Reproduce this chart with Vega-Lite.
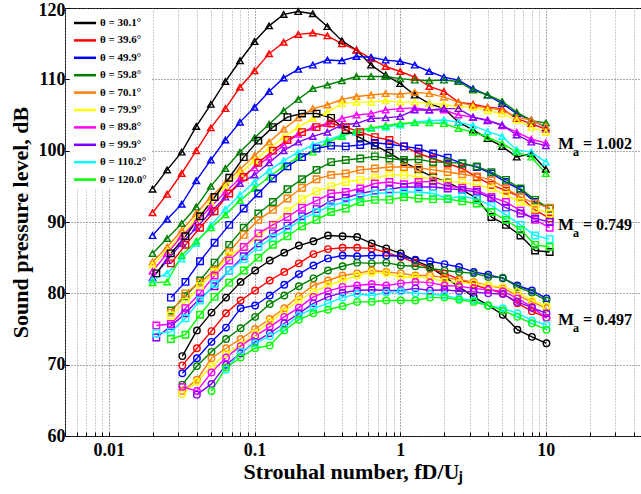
{
"$schema": "https://vega.github.io/schema/vega-lite/v6.json",
"width": 576, "height": 428,
"autosize": {"type": "none"},
"padding": {"left": 65, "top": 8, "right": 0, "bottom": 58},
"background": "white",
"data": {"values": [
{"s":"30.1","m":"1.002","x":0.01995,"y":94.6},{"s":"30.1","m":"1.002","x":0.02512,"y":97.3},{"s":"30.1","m":"1.002","x":0.03162,"y":99.8},{"s":"30.1","m":"1.002","x":0.03981,"y":103.4},{"s":"30.1","m":"1.002","x":0.05012,"y":106.5},{"s":"30.1","m":"1.002","x":0.0631,"y":109.7},{"s":"30.1","m":"1.002","x":0.07943,"y":112.6},{"s":"30.1","m":"1.002","x":0.1,"y":115.3},{"s":"30.1","m":"1.002","x":0.1259,"y":117.5},{"s":"30.1","m":"1.002","x":0.1585,"y":119.1},{"s":"30.1","m":"1.002","x":0.1995,"y":119.5},{"s":"30.1","m":"1.002","x":0.2512,"y":119.2},{"s":"30.1","m":"1.002","x":0.3162,"y":117.4},{"s":"30.1","m":"1.002","x":0.3981,"y":115.4},{"s":"30.1","m":"1.002","x":0.5012,"y":114.1},{"s":"30.1","m":"1.002","x":0.631,"y":112.0},{"s":"30.1","m":"1.002","x":0.7943,"y":110.6},{"s":"30.1","m":"1.002","x":1,"y":109.4},{"s":"30.1","m":"1.002","x":1.259,"y":107.8},{"s":"30.1","m":"1.002","x":1.585,"y":106.6},{"s":"30.1","m":"1.002","x":1.995,"y":105.9},{"s":"30.1","m":"1.002","x":2.512,"y":104.0},{"s":"30.1","m":"1.002","x":3.162,"y":102.9},{"s":"30.1","m":"1.002","x":3.981,"y":101.7},{"s":"30.1","m":"1.002","x":5.012,"y":100.6},{"s":"30.1","m":"1.002","x":6.31,"y":99.1},{"s":"30.1","m":"1.002","x":7.943,"y":99.6},{"s":"30.1","m":"1.002","x":10,"y":97.4},
{"s":"39.6","m":"1.002","x":0.01995,"y":91.3},{"s":"39.6","m":"1.002","x":0.02512,"y":93.9},{"s":"39.6","m":"1.002","x":0.03162,"y":96.8},{"s":"39.6","m":"1.002","x":0.03981,"y":100.0},{"s":"39.6","m":"1.002","x":0.05012,"y":103.2},{"s":"39.6","m":"1.002","x":0.0631,"y":105.9},{"s":"39.6","m":"1.002","x":0.07943,"y":108.9},{"s":"39.6","m":"1.002","x":0.1,"y":111.2},{"s":"39.6","m":"1.002","x":0.1259,"y":113.6},{"s":"39.6","m":"1.002","x":0.1585,"y":115.2},{"s":"39.6","m":"1.002","x":0.1995,"y":116.3},{"s":"39.6","m":"1.002","x":0.2512,"y":116.5},{"s":"39.6","m":"1.002","x":0.3162,"y":116.1},{"s":"39.6","m":"1.002","x":0.3981,"y":115.0},{"s":"39.6","m":"1.002","x":0.5012,"y":114.1},{"s":"39.6","m":"1.002","x":0.631,"y":112.9},{"s":"39.6","m":"1.002","x":0.7943,"y":111.8},{"s":"39.6","m":"1.002","x":1,"y":111.1},{"s":"39.6","m":"1.002","x":1.259,"y":110.3},{"s":"39.6","m":"1.002","x":1.585,"y":109.0},{"s":"39.6","m":"1.002","x":1.995,"y":108.3},{"s":"39.6","m":"1.002","x":2.512,"y":106.8},{"s":"39.6","m":"1.002","x":3.162,"y":106.5},{"s":"39.6","m":"1.002","x":3.981,"y":106.1},{"s":"39.6","m":"1.002","x":5.012,"y":105.9},{"s":"39.6","m":"1.002","x":6.31,"y":104.5},{"s":"39.6","m":"1.002","x":7.943,"y":103.8},{"s":"39.6","m":"1.002","x":10,"y":103.0},
{"s":"49.9","m":"1.002","x":0.01995,"y":88.1},{"s":"49.9","m":"1.002","x":0.02512,"y":90.4},{"s":"49.9","m":"1.002","x":0.03162,"y":92.5},{"s":"49.9","m":"1.002","x":0.03981,"y":95.8},{"s":"49.9","m":"1.002","x":0.05012,"y":98.7},{"s":"49.9","m":"1.002","x":0.0631,"y":101.5},{"s":"49.9","m":"1.002","x":0.07943,"y":104.0},{"s":"49.9","m":"1.002","x":0.1,"y":106.1},{"s":"49.9","m":"1.002","x":0.1259,"y":108.3},{"s":"49.9","m":"1.002","x":0.1585,"y":110.2},{"s":"49.9","m":"1.002","x":0.1995,"y":111.4},{"s":"49.9","m":"1.002","x":0.2512,"y":112.0},{"s":"49.9","m":"1.002","x":0.3162,"y":112.7},{"s":"49.9","m":"1.002","x":0.3981,"y":112.6},{"s":"49.9","m":"1.002","x":0.5012,"y":113.2},{"s":"49.9","m":"1.002","x":0.631,"y":113.1},{"s":"49.9","m":"1.002","x":0.7943,"y":112.7},{"s":"49.9","m":"1.002","x":1,"y":112.5},{"s":"49.9","m":"1.002","x":1.259,"y":112.0},{"s":"49.9","m":"1.002","x":1.585,"y":111.1},{"s":"49.9","m":"1.002","x":1.995,"y":110.3},{"s":"49.9","m":"1.002","x":2.512,"y":109.9},{"s":"49.9","m":"1.002","x":3.162,"y":108.7},{"s":"49.9","m":"1.002","x":3.981,"y":107.8},{"s":"49.9","m":"1.002","x":5.012,"y":106.6},{"s":"49.9","m":"1.002","x":6.31,"y":105.2},{"s":"49.9","m":"1.002","x":7.943,"y":104.3},{"s":"49.9","m":"1.002","x":10,"y":103.3},
{"s":"59.8","m":"1.002","x":0.01995,"y":85.6},{"s":"59.8","m":"1.002","x":0.02512,"y":87.7},{"s":"59.8","m":"1.002","x":0.03162,"y":89.8},{"s":"59.8","m":"1.002","x":0.03981,"y":92.1},{"s":"59.8","m":"1.002","x":0.05012,"y":95.0},{"s":"59.8","m":"1.002","x":0.0631,"y":97.5},{"s":"59.8","m":"1.002","x":0.07943,"y":99.8},{"s":"59.8","m":"1.002","x":0.1,"y":101.8},{"s":"59.8","m":"1.002","x":0.1259,"y":103.7},{"s":"59.8","m":"1.002","x":0.1585,"y":105.6},{"s":"59.8","m":"1.002","x":0.1995,"y":107.2},{"s":"59.8","m":"1.002","x":0.2512,"y":108.7},{"s":"59.8","m":"1.002","x":0.3162,"y":109.2},{"s":"59.8","m":"1.002","x":0.3981,"y":109.8},{"s":"59.8","m":"1.002","x":0.5012,"y":110.4},{"s":"59.8","m":"1.002","x":0.631,"y":110.4},{"s":"59.8","m":"1.002","x":0.7943,"y":110.4},{"s":"59.8","m":"1.002","x":1,"y":110.1},{"s":"59.8","m":"1.002","x":1.259,"y":109.9},{"s":"59.8","m":"1.002","x":1.585,"y":109.8},{"s":"59.8","m":"1.002","x":1.995,"y":109.9},{"s":"59.8","m":"1.002","x":2.512,"y":109.7},{"s":"59.8","m":"1.002","x":3.162,"y":108.5},{"s":"59.8","m":"1.002","x":3.981,"y":107.8},{"s":"59.8","m":"1.002","x":5.012,"y":106.9},{"s":"59.8","m":"1.002","x":6.31,"y":105.4},{"s":"59.8","m":"1.002","x":7.943,"y":104.2},{"s":"59.8","m":"1.002","x":10,"y":103.9},
{"s":"70.1","m":"1.002","x":0.01995,"y":84.4},{"s":"70.1","m":"1.002","x":0.02512,"y":86.5},{"s":"70.1","m":"1.002","x":0.03162,"y":88.8},{"s":"70.1","m":"1.002","x":0.03981,"y":91.2},{"s":"70.1","m":"1.002","x":0.05012,"y":93.5},{"s":"70.1","m":"1.002","x":0.0631,"y":95.5},{"s":"70.1","m":"1.002","x":0.07943,"y":97.4},{"s":"70.1","m":"1.002","x":0.1,"y":99.3},{"s":"70.1","m":"1.002","x":0.1259,"y":101.2},{"s":"70.1","m":"1.002","x":0.1585,"y":103.0},{"s":"70.1","m":"1.002","x":0.1995,"y":104.6},{"s":"70.1","m":"1.002","x":0.2512,"y":105.9},{"s":"70.1","m":"1.002","x":0.3162,"y":106.4},{"s":"70.1","m":"1.002","x":0.3981,"y":107.2},{"s":"70.1","m":"1.002","x":0.5012,"y":107.6},{"s":"70.1","m":"1.002","x":0.631,"y":107.8},{"s":"70.1","m":"1.002","x":0.7943,"y":108.0},{"s":"70.1","m":"1.002","x":1,"y":107.9},{"s":"70.1","m":"1.002","x":1.259,"y":108.2},{"s":"70.1","m":"1.002","x":1.585,"y":108.0},{"s":"70.1","m":"1.002","x":1.995,"y":107.5},{"s":"70.1","m":"1.002","x":2.512,"y":106.8},{"s":"70.1","m":"1.002","x":3.162,"y":106.3},{"s":"70.1","m":"1.002","x":3.981,"y":106.0},{"s":"70.1","m":"1.002","x":5.012,"y":105.7},{"s":"70.1","m":"1.002","x":6.31,"y":104.7},{"s":"70.1","m":"1.002","x":7.943,"y":104.3},{"s":"70.1","m":"1.002","x":10,"y":103.4},
{"s":"79.9","m":"1.002","x":0.01995,"y":84.0},{"s":"79.9","m":"1.002","x":0.02512,"y":86.0},{"s":"79.9","m":"1.002","x":0.03162,"y":88.2},{"s":"79.9","m":"1.002","x":0.03981,"y":90.5},{"s":"79.9","m":"1.002","x":0.05012,"y":92.8},{"s":"79.9","m":"1.002","x":0.0631,"y":95.0},{"s":"79.9","m":"1.002","x":0.07943,"y":96.8},{"s":"79.9","m":"1.002","x":0.1,"y":98.6},{"s":"79.9","m":"1.002","x":0.1259,"y":100.3},{"s":"79.9","m":"1.002","x":0.1585,"y":101.9},{"s":"79.9","m":"1.002","x":0.1995,"y":103.3},{"s":"79.9","m":"1.002","x":0.2512,"y":104.5},{"s":"79.9","m":"1.002","x":0.3162,"y":105.4},{"s":"79.9","m":"1.002","x":0.3981,"y":106.6},{"s":"79.9","m":"1.002","x":0.5012,"y":106.8},{"s":"79.9","m":"1.002","x":0.631,"y":106.8},{"s":"79.9","m":"1.002","x":0.7943,"y":107.0},{"s":"79.9","m":"1.002","x":1,"y":106.8},{"s":"79.9","m":"1.002","x":1.259,"y":106.8},{"s":"79.9","m":"1.002","x":1.585,"y":106.6},{"s":"79.9","m":"1.002","x":1.995,"y":106.5},{"s":"79.9","m":"1.002","x":2.512,"y":106.1},{"s":"79.9","m":"1.002","x":3.162,"y":106.1},{"s":"79.9","m":"1.002","x":3.981,"y":105.6},{"s":"79.9","m":"1.002","x":5.012,"y":105.2},{"s":"79.9","m":"1.002","x":6.31,"y":104.3},{"s":"79.9","m":"1.002","x":7.943,"y":103.3},{"s":"79.9","m":"1.002","x":10,"y":102.6},
{"s":"89.8","m":"1.002","x":0.01995,"y":83.1},{"s":"89.8","m":"1.002","x":0.02512,"y":85.6},{"s":"89.8","m":"1.002","x":0.03162,"y":88.0},{"s":"89.8","m":"1.002","x":0.03981,"y":90.0},{"s":"89.8","m":"1.002","x":0.05012,"y":92.1},{"s":"89.8","m":"1.002","x":0.0631,"y":94.2},{"s":"89.8","m":"1.002","x":0.07943,"y":96.1},{"s":"89.8","m":"1.002","x":0.1,"y":97.6},{"s":"89.8","m":"1.002","x":0.1259,"y":99.1},{"s":"89.8","m":"1.002","x":0.1585,"y":100.8},{"s":"89.8","m":"1.002","x":0.1995,"y":102.3},{"s":"89.8","m":"1.002","x":0.2512,"y":103.3},{"s":"89.8","m":"1.002","x":0.3162,"y":103.8},{"s":"89.8","m":"1.002","x":0.3981,"y":104.5},{"s":"89.8","m":"1.002","x":0.5012,"y":105.0},{"s":"89.8","m":"1.002","x":0.631,"y":105.2},{"s":"89.8","m":"1.002","x":0.7943,"y":105.7},{"s":"89.8","m":"1.002","x":1,"y":105.9},{"s":"89.8","m":"1.002","x":1.259,"y":106.0},{"s":"89.8","m":"1.002","x":1.585,"y":105.7},{"s":"89.8","m":"1.002","x":1.995,"y":105.7},{"s":"89.8","m":"1.002","x":2.512,"y":105.0},{"s":"89.8","m":"1.002","x":3.162,"y":104.7},{"s":"89.8","m":"1.002","x":3.981,"y":104.3},{"s":"89.8","m":"1.002","x":5.012,"y":103.5},{"s":"89.8","m":"1.002","x":6.31,"y":102.6},{"s":"89.8","m":"1.002","x":7.943,"y":101.6},{"s":"89.8","m":"1.002","x":10,"y":101.1},
{"s":"99.9","m":"1.002","x":0.01995,"y":82.2},{"s":"99.9","m":"1.002","x":0.02512,"y":84.6},{"s":"99.9","m":"1.002","x":0.03162,"y":87.0},{"s":"99.9","m":"1.002","x":0.03981,"y":89.2},{"s":"99.9","m":"1.002","x":0.05012,"y":91.4},{"s":"99.9","m":"1.002","x":0.0631,"y":93.5},{"s":"99.9","m":"1.002","x":0.07943,"y":95.4},{"s":"99.9","m":"1.002","x":0.1,"y":96.6},{"s":"99.9","m":"1.002","x":0.1259,"y":98.3},{"s":"99.9","m":"1.002","x":0.1585,"y":100.0},{"s":"99.9","m":"1.002","x":0.1995,"y":101.2},{"s":"99.9","m":"1.002","x":0.2512,"y":102.0},{"s":"99.9","m":"1.002","x":0.3162,"y":102.6},{"s":"99.9","m":"1.002","x":0.3981,"y":103.6},{"s":"99.9","m":"1.002","x":0.5012,"y":103.8},{"s":"99.9","m":"1.002","x":0.631,"y":104.5},{"s":"99.9","m":"1.002","x":0.7943,"y":104.6},{"s":"99.9","m":"1.002","x":1,"y":104.8},{"s":"99.9","m":"1.002","x":1.259,"y":105.7},{"s":"99.9","m":"1.002","x":1.585,"y":105.7},{"s":"99.9","m":"1.002","x":1.995,"y":105.9},{"s":"99.9","m":"1.002","x":2.512,"y":105.9},{"s":"99.9","m":"1.002","x":3.162,"y":104.7},{"s":"99.9","m":"1.002","x":3.981,"y":104.2},{"s":"99.9","m":"1.002","x":5.012,"y":103.6},{"s":"99.9","m":"1.002","x":6.31,"y":102.2},{"s":"99.9","m":"1.002","x":7.943,"y":101.2},{"s":"99.9","m":"1.002","x":10,"y":100.7},
{"s":"110.2","m":"1.002","x":0.01995,"y":81.9},{"s":"110.2","m":"1.002","x":0.02512,"y":82.8},{"s":"110.2","m":"1.002","x":0.03162,"y":84.8},{"s":"110.2","m":"1.002","x":0.03981,"y":87.0},{"s":"110.2","m":"1.002","x":0.05012,"y":89.5},{"s":"110.2","m":"1.002","x":0.0631,"y":91.8},{"s":"110.2","m":"1.002","x":0.07943,"y":93.8},{"s":"110.2","m":"1.002","x":0.1,"y":95.6},{"s":"110.2","m":"1.002","x":0.1259,"y":97.2},{"s":"110.2","m":"1.002","x":0.1585,"y":98.6},{"s":"110.2","m":"1.002","x":0.1995,"y":99.8},{"s":"110.2","m":"1.002","x":0.2512,"y":100.8},{"s":"110.2","m":"1.002","x":0.3162,"y":101.5},{"s":"110.2","m":"1.002","x":0.3981,"y":102.2},{"s":"110.2","m":"1.002","x":0.5012,"y":102.6},{"s":"110.2","m":"1.002","x":0.631,"y":103.1},{"s":"110.2","m":"1.002","x":0.7943,"y":103.3},{"s":"110.2","m":"1.002","x":1,"y":103.6},{"s":"110.2","m":"1.002","x":1.259,"y":104.0},{"s":"110.2","m":"1.002","x":1.585,"y":104.2},{"s":"110.2","m":"1.002","x":1.995,"y":104.3},{"s":"110.2","m":"1.002","x":2.512,"y":104.0},{"s":"110.2","m":"1.002","x":3.162,"y":103.5},{"s":"110.2","m":"1.002","x":3.981,"y":102.7},{"s":"110.2","m":"1.002","x":5.012,"y":102.0},{"s":"110.2","m":"1.002","x":6.31,"y":100.1},{"s":"110.2","m":"1.002","x":7.943,"y":99.8},{"s":"110.2","m":"1.002","x":10,"y":98.4},
{"s":"120.0","m":"1.002","x":0.01995,"y":81.5},{"s":"120.0","m":"1.002","x":0.02512,"y":81.6},{"s":"120.0","m":"1.002","x":0.03162,"y":85.3},{"s":"120.0","m":"1.002","x":0.03981,"y":87.3},{"s":"120.0","m":"1.002","x":0.05012,"y":89.2},{"s":"120.0","m":"1.002","x":0.0631,"y":91.0},{"s":"120.0","m":"1.002","x":0.07943,"y":93.0},{"s":"120.0","m":"1.002","x":0.1,"y":94.7},{"s":"120.0","m":"1.002","x":0.1259,"y":96.3},{"s":"120.0","m":"1.002","x":0.1585,"y":97.8},{"s":"120.0","m":"1.002","x":0.1995,"y":99.1},{"s":"120.0","m":"1.002","x":0.2512,"y":99.8},{"s":"120.0","m":"1.002","x":0.3162,"y":101.2},{"s":"120.0","m":"1.002","x":0.3981,"y":102.0},{"s":"120.0","m":"1.002","x":0.5012,"y":102.8},{"s":"120.0","m":"1.002","x":0.631,"y":103.2},{"s":"120.0","m":"1.002","x":0.7943,"y":103.5},{"s":"120.0","m":"1.002","x":1,"y":103.8},{"s":"120.0","m":"1.002","x":1.259,"y":103.9},{"s":"120.0","m":"1.002","x":1.585,"y":103.9},{"s":"120.0","m":"1.002","x":1.995,"y":103.8},{"s":"120.0","m":"1.002","x":2.512,"y":103.1},{"s":"120.0","m":"1.002","x":3.162,"y":102.6},{"s":"120.0","m":"1.002","x":3.981,"y":101.9},{"s":"120.0","m":"1.002","x":5.012,"y":101.0},{"s":"120.0","m":"1.002","x":6.31,"y":99.8},{"s":"120.0","m":"1.002","x":7.943,"y":99.1},{"s":"120.0","m":"1.002","x":10,"y":96.8},
{"s":"30.1","m":"0.749","x":0.02118,"y":82.8},{"s":"30.1","m":"0.749","x":0.02667,"y":85.6},{"s":"30.1","m":"0.749","x":0.03357,"y":88.0},{"s":"30.1","m":"0.749","x":0.04227,"y":90.8},{"s":"30.1","m":"0.749","x":0.05321,"y":93.5},{"s":"30.1","m":"0.749","x":0.067,"y":96.2},{"s":"30.1","m":"0.749","x":0.08433,"y":99.1},{"s":"30.1","m":"0.749","x":0.1062,"y":101.4},{"s":"30.1","m":"0.749","x":0.1337,"y":103.3},{"s":"30.1","m":"0.749","x":0.1683,"y":104.7},{"s":"30.1","m":"0.749","x":0.2118,"y":105.2},{"s":"30.1","m":"0.749","x":0.2667,"y":105.2},{"s":"30.1","m":"0.749","x":0.3357,"y":104.6},{"s":"30.1","m":"0.749","x":0.4227,"y":102.9},{"s":"30.1","m":"0.749","x":0.5321,"y":101.8},{"s":"30.1","m":"0.749","x":0.67,"y":100.7},{"s":"30.1","m":"0.749","x":0.8433,"y":99.7},{"s":"30.1","m":"0.749","x":1.062,"y":98.4},{"s":"30.1","m":"0.749","x":1.337,"y":97.3},{"s":"30.1","m":"0.749","x":1.683,"y":96.3},{"s":"30.1","m":"0.749","x":2.118,"y":95.6},{"s":"30.1","m":"0.749","x":2.667,"y":94.5},{"s":"30.1","m":"0.749","x":3.357,"y":93.3},{"s":"30.1","m":"0.749","x":4.227,"y":90.7},{"s":"30.1","m":"0.749","x":5.321,"y":89.6},{"s":"30.1","m":"0.749","x":6.7,"y":88.1},{"s":"30.1","m":"0.749","x":8.433,"y":86.0},{"s":"30.1","m":"0.749","x":10.62,"y":85.8},
{"s":"39.6","m":"0.749","x":0.02667,"y":84.2},{"s":"39.6","m":"0.749","x":0.03357,"y":86.8},{"s":"39.6","m":"0.749","x":0.04227,"y":89.2},{"s":"39.6","m":"0.749","x":0.05321,"y":91.5},{"s":"39.6","m":"0.749","x":0.067,"y":94.0},{"s":"39.6","m":"0.749","x":0.08433,"y":96.3},{"s":"39.6","m":"0.749","x":0.1062,"y":98.3},{"s":"39.6","m":"0.749","x":0.1337,"y":100.0},{"s":"39.6","m":"0.749","x":0.1683,"y":101.5},{"s":"39.6","m":"0.749","x":0.2118,"y":102.6},{"s":"39.6","m":"0.749","x":0.2667,"y":103.3},{"s":"39.6","m":"0.749","x":0.3357,"y":103.8},{"s":"39.6","m":"0.749","x":0.4227,"y":103.3},{"s":"39.6","m":"0.749","x":0.5321,"y":102.6},{"s":"39.6","m":"0.749","x":0.67,"y":101.9},{"s":"39.6","m":"0.749","x":0.8433,"y":101.5},{"s":"39.6","m":"0.749","x":1.062,"y":100.6},{"s":"39.6","m":"0.749","x":1.337,"y":99.6},{"s":"39.6","m":"0.749","x":1.683,"y":98.9},{"s":"39.6","m":"0.749","x":2.118,"y":98.2},{"s":"39.6","m":"0.749","x":2.667,"y":97.5},{"s":"39.6","m":"0.749","x":3.357,"y":96.3},{"s":"39.6","m":"0.749","x":4.227,"y":95.2},{"s":"39.6","m":"0.749","x":5.321,"y":94.4},{"s":"39.6","m":"0.749","x":6.7,"y":93.5},{"s":"39.6","m":"0.749","x":8.433,"y":91.7},{"s":"39.6","m":"0.749","x":10.62,"y":90.5},
{"s":"49.9","m":"0.749","x":0.02667,"y":79.4},{"s":"49.9","m":"0.749","x":0.03357,"y":81.6},{"s":"49.9","m":"0.749","x":0.04227,"y":84.5},{"s":"49.9","m":"0.749","x":0.05321,"y":87.1},{"s":"49.9","m":"0.749","x":0.067,"y":89.6},{"s":"49.9","m":"0.749","x":0.08433,"y":91.9},{"s":"49.9","m":"0.749","x":0.1062,"y":94.0},{"s":"49.9","m":"0.749","x":0.1337,"y":96.1},{"s":"49.9","m":"0.749","x":0.1683,"y":97.8},{"s":"49.9","m":"0.749","x":0.2118,"y":99.1},{"s":"49.9","m":"0.749","x":0.2667,"y":100.3},{"s":"49.9","m":"0.749","x":0.3357,"y":100.7},{"s":"49.9","m":"0.749","x":0.4227,"y":100.6},{"s":"49.9","m":"0.749","x":0.5321,"y":100.8},{"s":"49.9","m":"0.749","x":0.67,"y":101.1},{"s":"49.9","m":"0.749","x":0.8433,"y":100.9},{"s":"49.9","m":"0.749","x":1.062,"y":100.6},{"s":"49.9","m":"0.749","x":1.337,"y":100.3},{"s":"49.9","m":"0.749","x":1.683,"y":99.6},{"s":"49.9","m":"0.749","x":2.118,"y":99.0},{"s":"49.9","m":"0.749","x":2.667,"y":98.2},{"s":"49.9","m":"0.749","x":3.357,"y":97.7},{"s":"49.9","m":"0.749","x":4.227,"y":96.8},{"s":"49.9","m":"0.749","x":5.321,"y":95.6},{"s":"49.9","m":"0.749","x":6.7,"y":94.5},{"s":"49.9","m":"0.749","x":8.433,"y":92.8},{"s":"49.9","m":"0.749","x":10.62,"y":91.9},
{"s":"59.8","m":"0.749","x":0.02667,"y":77.6},{"s":"59.8","m":"0.749","x":0.03357,"y":79.6},{"s":"59.8","m":"0.749","x":0.04227,"y":81.8},{"s":"59.8","m":"0.749","x":0.05321,"y":84.3},{"s":"59.8","m":"0.749","x":0.067,"y":86.8},{"s":"59.8","m":"0.749","x":0.08433,"y":89.2},{"s":"59.8","m":"0.749","x":0.1062,"y":91.2},{"s":"59.8","m":"0.749","x":0.1337,"y":92.8},{"s":"59.8","m":"0.749","x":0.1683,"y":94.6},{"s":"59.8","m":"0.749","x":0.2118,"y":96.0},{"s":"59.8","m":"0.749","x":0.2667,"y":97.3},{"s":"59.8","m":"0.749","x":0.3357,"y":98.4},{"s":"59.8","m":"0.749","x":0.4227,"y":98.7},{"s":"59.8","m":"0.749","x":0.5321,"y":98.9},{"s":"59.8","m":"0.749","x":0.67,"y":99.2},{"s":"59.8","m":"0.749","x":0.8433,"y":98.9},{"s":"59.8","m":"0.749","x":1.062,"y":98.7},{"s":"59.8","m":"0.749","x":1.337,"y":98.8},{"s":"59.8","m":"0.749","x":1.683,"y":98.4},{"s":"59.8","m":"0.749","x":2.118,"y":98.4},{"s":"59.8","m":"0.749","x":2.667,"y":98.2},{"s":"59.8","m":"0.749","x":3.357,"y":97.8},{"s":"59.8","m":"0.749","x":4.227,"y":97.0},{"s":"59.8","m":"0.749","x":5.321,"y":95.9},{"s":"59.8","m":"0.749","x":6.7,"y":94.7},{"s":"59.8","m":"0.749","x":8.433,"y":93.1},{"s":"59.8","m":"0.749","x":10.62,"y":91.9},
{"s":"70.1","m":"0.749","x":0.02667,"y":77.3},{"s":"70.1","m":"0.749","x":0.03357,"y":80.0},{"s":"70.1","m":"0.749","x":0.04227,"y":81.5},{"s":"70.1","m":"0.749","x":0.05321,"y":83.2},{"s":"70.1","m":"0.749","x":0.067,"y":85.8},{"s":"70.1","m":"0.749","x":0.08433,"y":88.2},{"s":"70.1","m":"0.749","x":0.1062,"y":90.3},{"s":"70.1","m":"0.749","x":0.1337,"y":91.7},{"s":"70.1","m":"0.749","x":0.1683,"y":93.3},{"s":"70.1","m":"0.749","x":0.2118,"y":94.8},{"s":"70.1","m":"0.749","x":0.2667,"y":96.0},{"s":"70.1","m":"0.749","x":0.3357,"y":96.6},{"s":"70.1","m":"0.749","x":0.4227,"y":96.8},{"s":"70.1","m":"0.749","x":0.5321,"y":97.3},{"s":"70.1","m":"0.749","x":0.67,"y":97.5},{"s":"70.1","m":"0.749","x":0.8433,"y":97.7},{"s":"70.1","m":"0.749","x":1.062,"y":97.7},{"s":"70.1","m":"0.749","x":1.337,"y":97.6},{"s":"70.1","m":"0.749","x":1.683,"y":97.3},{"s":"70.1","m":"0.749","x":2.118,"y":97.0},{"s":"70.1","m":"0.749","x":2.667,"y":96.7},{"s":"70.1","m":"0.749","x":3.357,"y":96.4},{"s":"70.1","m":"0.749","x":4.227,"y":95.9},{"s":"70.1","m":"0.749","x":5.321,"y":94.7},{"s":"70.1","m":"0.749","x":6.7,"y":93.5},{"s":"70.1","m":"0.749","x":8.433,"y":92.6},{"s":"70.1","m":"0.749","x":10.62,"y":92.0},
{"s":"79.9","m":"0.749","x":0.02667,"y":76.9},{"s":"79.9","m":"0.749","x":0.03357,"y":78.8},{"s":"79.9","m":"0.749","x":0.04227,"y":81.0},{"s":"79.9","m":"0.749","x":0.05321,"y":83.0},{"s":"79.9","m":"0.749","x":0.067,"y":85.3},{"s":"79.9","m":"0.749","x":0.08433,"y":86.5},{"s":"79.9","m":"0.749","x":0.1062,"y":87.9},{"s":"79.9","m":"0.749","x":0.1337,"y":89.7},{"s":"79.9","m":"0.749","x":0.1683,"y":91.5},{"s":"79.9","m":"0.749","x":0.2118,"y":93.2},{"s":"79.9","m":"0.749","x":0.2667,"y":94.3},{"s":"79.9","m":"0.749","x":0.3357,"y":95.0},{"s":"79.9","m":"0.749","x":0.4227,"y":95.6},{"s":"79.9","m":"0.749","x":0.5321,"y":95.9},{"s":"79.9","m":"0.749","x":0.67,"y":96.2},{"s":"79.9","m":"0.749","x":0.8433,"y":96.6},{"s":"79.9","m":"0.749","x":1.062,"y":96.6},{"s":"79.9","m":"0.749","x":1.337,"y":96.3},{"s":"79.9","m":"0.749","x":1.683,"y":96.0},{"s":"79.9","m":"0.749","x":2.118,"y":95.7},{"s":"79.9","m":"0.749","x":2.667,"y":95.5},{"s":"79.9","m":"0.749","x":3.357,"y":95.2},{"s":"79.9","m":"0.749","x":4.227,"y":94.7},{"s":"79.9","m":"0.749","x":5.321,"y":93.8},{"s":"79.9","m":"0.749","x":6.7,"y":92.8},{"s":"79.9","m":"0.749","x":8.433,"y":91.9},{"s":"79.9","m":"0.749","x":10.62,"y":91.2},
{"s":"89.8","m":"0.749","x":0.02118,"y":75.5},{"s":"89.8","m":"0.749","x":0.02667,"y":75.7},{"s":"89.8","m":"0.749","x":0.03357,"y":77.9},{"s":"89.8","m":"0.749","x":0.04227,"y":80.0},{"s":"89.8","m":"0.749","x":0.05321,"y":82.5},{"s":"89.8","m":"0.749","x":0.067,"y":84.6},{"s":"89.8","m":"0.749","x":0.08433,"y":86.5},{"s":"89.8","m":"0.749","x":0.1062,"y":88.4},{"s":"89.8","m":"0.749","x":0.1337,"y":89.6},{"s":"89.8","m":"0.749","x":0.1683,"y":90.7},{"s":"89.8","m":"0.749","x":0.2118,"y":92.0},{"s":"89.8","m":"0.749","x":0.2667,"y":93.0},{"s":"89.8","m":"0.749","x":0.3357,"y":94.0},{"s":"89.8","m":"0.749","x":0.4227,"y":94.2},{"s":"89.8","m":"0.749","x":0.5321,"y":94.7},{"s":"89.8","m":"0.749","x":0.67,"y":95.4},{"s":"89.8","m":"0.749","x":0.8433,"y":95.6},{"s":"89.8","m":"0.749","x":1.062,"y":95.3},{"s":"89.8","m":"0.749","x":1.337,"y":95.6},{"s":"89.8","m":"0.749","x":1.683,"y":95.7},{"s":"89.8","m":"0.749","x":2.118,"y":95.0},{"s":"89.8","m":"0.749","x":2.667,"y":94.8},{"s":"89.8","m":"0.749","x":3.357,"y":94.5},{"s":"89.8","m":"0.749","x":4.227,"y":93.5},{"s":"89.8","m":"0.749","x":5.321,"y":92.8},{"s":"89.8","m":"0.749","x":6.7,"y":91.6},{"s":"89.8","m":"0.749","x":8.433,"y":90.3},{"s":"89.8","m":"0.749","x":10.62,"y":89.2},
{"s":"99.9","m":"0.749","x":0.02118,"y":73.8},{"s":"99.9","m":"0.749","x":0.02667,"y":75.4},{"s":"99.9","m":"0.749","x":0.03357,"y":77.2},{"s":"99.9","m":"0.749","x":0.04227,"y":79.3},{"s":"99.9","m":"0.749","x":0.05321,"y":81.0},{"s":"99.9","m":"0.749","x":0.067,"y":83.2},{"s":"99.9","m":"0.749","x":0.08433,"y":85.2},{"s":"99.9","m":"0.749","x":0.1062,"y":87.0},{"s":"99.9","m":"0.749","x":0.1337,"y":88.4},{"s":"99.9","m":"0.749","x":0.1683,"y":89.5},{"s":"99.9","m":"0.749","x":0.2118,"y":90.8},{"s":"99.9","m":"0.749","x":0.2667,"y":91.8},{"s":"99.9","m":"0.749","x":0.3357,"y":93.0},{"s":"99.9","m":"0.749","x":0.4227,"y":93.4},{"s":"99.9","m":"0.749","x":0.5321,"y":94.0},{"s":"99.9","m":"0.749","x":0.67,"y":94.4},{"s":"99.9","m":"0.749","x":0.8433,"y":94.6},{"s":"99.9","m":"0.749","x":1.062,"y":94.9},{"s":"99.9","m":"0.749","x":1.337,"y":94.9},{"s":"99.9","m":"0.749","x":1.683,"y":94.9},{"s":"99.9","m":"0.749","x":2.118,"y":94.7},{"s":"99.9","m":"0.749","x":2.667,"y":94.5},{"s":"99.9","m":"0.749","x":3.357,"y":94.2},{"s":"99.9","m":"0.749","x":4.227,"y":93.3},{"s":"99.9","m":"0.749","x":5.321,"y":92.0},{"s":"99.9","m":"0.749","x":6.7,"y":91.2},{"s":"99.9","m":"0.749","x":8.433,"y":90.5},{"s":"99.9","m":"0.749","x":10.62,"y":90.0},
{"s":"110.2","m":"0.749","x":0.02118,"y":74.4},{"s":"110.2","m":"0.749","x":0.02667,"y":74.6},{"s":"110.2","m":"0.749","x":0.03357,"y":76.5},{"s":"110.2","m":"0.749","x":0.04227,"y":79.0},{"s":"110.2","m":"0.749","x":0.05321,"y":81.3},{"s":"110.2","m":"0.749","x":0.067,"y":83.2},{"s":"110.2","m":"0.749","x":0.08433,"y":84.8},{"s":"110.2","m":"0.749","x":0.1062,"y":86.5},{"s":"110.2","m":"0.749","x":0.1337,"y":87.8},{"s":"110.2","m":"0.749","x":0.1683,"y":89.0},{"s":"110.2","m":"0.749","x":0.2118,"y":90.4},{"s":"110.2","m":"0.749","x":0.2667,"y":91.4},{"s":"110.2","m":"0.749","x":0.3357,"y":92.3},{"s":"110.2","m":"0.749","x":0.4227,"y":92.8},{"s":"110.2","m":"0.749","x":0.5321,"y":93.5},{"s":"110.2","m":"0.749","x":0.67,"y":94.0},{"s":"110.2","m":"0.749","x":0.8433,"y":94.1},{"s":"110.2","m":"0.749","x":1.062,"y":94.2},{"s":"110.2","m":"0.749","x":1.337,"y":94.2},{"s":"110.2","m":"0.749","x":1.683,"y":94.0},{"s":"110.2","m":"0.749","x":2.118,"y":93.3},{"s":"110.2","m":"0.749","x":2.667,"y":93.6},{"s":"110.2","m":"0.749","x":3.357,"y":93.2},{"s":"110.2","m":"0.749","x":4.227,"y":92.3},{"s":"110.2","m":"0.749","x":5.321,"y":91.0},{"s":"110.2","m":"0.749","x":6.7,"y":89.6},{"s":"110.2","m":"0.749","x":8.433,"y":88.1},{"s":"110.2","m":"0.749","x":10.62,"y":87.6},
{"s":"120.0","m":"0.749","x":0.02667,"y":73.6},{"s":"120.0","m":"0.749","x":0.03357,"y":74.2},{"s":"120.0","m":"0.749","x":0.04227,"y":77.0},{"s":"120.0","m":"0.749","x":0.05321,"y":79.5},{"s":"120.0","m":"0.749","x":0.067,"y":81.5},{"s":"120.0","m":"0.749","x":0.08433,"y":83.2},{"s":"120.0","m":"0.749","x":0.1062,"y":85.0},{"s":"120.0","m":"0.749","x":0.1337,"y":86.8},{"s":"120.0","m":"0.749","x":0.1683,"y":88.0},{"s":"120.0","m":"0.749","x":0.2118,"y":89.4},{"s":"120.0","m":"0.749","x":0.2667,"y":90.3},{"s":"120.0","m":"0.749","x":0.3357,"y":91.4},{"s":"120.0","m":"0.749","x":0.4227,"y":91.9},{"s":"120.0","m":"0.749","x":0.5321,"y":92.8},{"s":"120.0","m":"0.749","x":0.67,"y":93.1},{"s":"120.0","m":"0.749","x":0.8433,"y":93.1},{"s":"120.0","m":"0.749","x":1.062,"y":93.5},{"s":"120.0","m":"0.749","x":1.337,"y":93.3},{"s":"120.0","m":"0.749","x":1.683,"y":93.2},{"s":"120.0","m":"0.749","x":2.118,"y":93.2},{"s":"120.0","m":"0.749","x":2.667,"y":92.9},{"s":"120.0","m":"0.749","x":3.357,"y":92.6},{"s":"120.0","m":"0.749","x":4.227,"y":91.4},{"s":"120.0","m":"0.749","x":5.321,"y":90.3},{"s":"120.0","m":"0.749","x":6.7,"y":88.9},{"s":"120.0","m":"0.749","x":8.433,"y":86.8},{"s":"120.0","m":"0.749","x":10.62,"y":86.5},
{"s":"30.1","m":"0.497","x":0.03195,"y":71.2},{"s":"30.1","m":"0.497","x":0.04022,"y":74.8},{"s":"30.1","m":"0.497","x":0.05064,"y":77.3},{"s":"30.1","m":"0.497","x":0.06376,"y":79.4},{"s":"30.1","m":"0.497","x":0.08026,"y":81.6},{"s":"30.1","m":"0.497","x":0.101,"y":83.2},{"s":"30.1","m":"0.497","x":0.1272,"y":84.6},{"s":"30.1","m":"0.497","x":0.1601,"y":85.7},{"s":"30.1","m":"0.497","x":0.2016,"y":86.7},{"s":"30.1","m":"0.497","x":0.2538,"y":87.3},{"s":"30.1","m":"0.497","x":0.3195,"y":88.1},{"s":"30.1","m":"0.497","x":0.4022,"y":88.0},{"s":"30.1","m":"0.497","x":0.5064,"y":87.9},{"s":"30.1","m":"0.497","x":0.6376,"y":87.0},{"s":"30.1","m":"0.497","x":0.8026,"y":86.3},{"s":"30.1","m":"0.497","x":1.01,"y":85.6},{"s":"30.1","m":"0.497","x":1.272,"y":84.6},{"s":"30.1","m":"0.497","x":1.601,"y":83.7},{"s":"30.1","m":"0.497","x":2.016,"y":82.3},{"s":"30.1","m":"0.497","x":2.538,"y":80.9},{"s":"30.1","m":"0.497","x":3.195,"y":79.5},{"s":"30.1","m":"0.497","x":4.022,"y":78.3},{"s":"30.1","m":"0.497","x":5.064,"y":77.0},{"s":"30.1","m":"0.497","x":6.376,"y":74.9},{"s":"30.1","m":"0.497","x":8.026,"y":73.9},{"s":"30.1","m":"0.497","x":10.1,"y":73.0},
{"s":"39.6","m":"0.497","x":0.03195,"y":69.9},{"s":"39.6","m":"0.497","x":0.04022,"y":72.3},{"s":"39.6","m":"0.497","x":0.05064,"y":74.7},{"s":"39.6","m":"0.497","x":0.06376,"y":77.2},{"s":"39.6","m":"0.497","x":0.08026,"y":79.0},{"s":"39.6","m":"0.497","x":0.101,"y":80.4},{"s":"39.6","m":"0.497","x":0.1272,"y":81.8},{"s":"39.6","m":"0.497","x":0.1601,"y":83.0},{"s":"39.6","m":"0.497","x":0.2016,"y":84.2},{"s":"39.6","m":"0.497","x":0.2538,"y":85.5},{"s":"39.6","m":"0.497","x":0.3195,"y":86.2},{"s":"39.6","m":"0.497","x":0.4022,"y":86.4},{"s":"39.6","m":"0.497","x":0.5064,"y":86.4},{"s":"39.6","m":"0.497","x":0.6376,"y":86.3},{"s":"39.6","m":"0.497","x":0.8026,"y":85.7},{"s":"39.6","m":"0.497","x":1.01,"y":85.1},{"s":"39.6","m":"0.497","x":1.272,"y":84.3},{"s":"39.6","m":"0.497","x":1.601,"y":83.5},{"s":"39.6","m":"0.497","x":2.016,"y":82.8},{"s":"39.6","m":"0.497","x":2.538,"y":82.0},{"s":"39.6","m":"0.497","x":3.195,"y":81.2},{"s":"39.6","m":"0.497","x":4.022,"y":80.6},{"s":"39.6","m":"0.497","x":5.064,"y":80.0},{"s":"39.6","m":"0.497","x":6.376,"y":78.6},{"s":"39.6","m":"0.497","x":8.026,"y":77.5},{"s":"39.6","m":"0.497","x":10.1,"y":76.6},
{"s":"49.9","m":"0.497","x":0.03195,"y":68.8},{"s":"49.9","m":"0.497","x":0.04022,"y":70.9},{"s":"49.9","m":"0.497","x":0.05064,"y":73.2},{"s":"49.9","m":"0.497","x":0.06376,"y":75.2},{"s":"49.9","m":"0.497","x":0.08026,"y":77.9},{"s":"49.9","m":"0.497","x":0.101,"y":78.3},{"s":"49.9","m":"0.497","x":0.1272,"y":79.7},{"s":"49.9","m":"0.497","x":0.1601,"y":81.2},{"s":"49.9","m":"0.497","x":0.2016,"y":82.7},{"s":"49.9","m":"0.497","x":0.2538,"y":83.9},{"s":"49.9","m":"0.497","x":0.3195,"y":84.9},{"s":"49.9","m":"0.497","x":0.4022,"y":85.3},{"s":"49.9","m":"0.497","x":0.5064,"y":85.2},{"s":"49.9","m":"0.497","x":0.6376,"y":85.3},{"s":"49.9","m":"0.497","x":0.8026,"y":85.3},{"s":"49.9","m":"0.497","x":1.01,"y":85.2},{"s":"49.9","m":"0.497","x":1.272,"y":84.7},{"s":"49.9","m":"0.497","x":1.601,"y":84.5},{"s":"49.9","m":"0.497","x":2.016,"y":84.1},{"s":"49.9","m":"0.497","x":2.538,"y":83.7},{"s":"49.9","m":"0.497","x":3.195,"y":83.0},{"s":"49.9","m":"0.497","x":4.022,"y":82.6},{"s":"49.9","m":"0.497","x":5.064,"y":82.1},{"s":"49.9","m":"0.497","x":6.376,"y":81.1},{"s":"49.9","m":"0.497","x":8.026,"y":80.4},{"s":"49.9","m":"0.497","x":10.1,"y":79.3},
{"s":"59.8","m":"0.497","x":0.03195,"y":67.2},{"s":"59.8","m":"0.497","x":0.04022,"y":69.8},{"s":"59.8","m":"0.497","x":0.05064,"y":71.8},{"s":"59.8","m":"0.497","x":0.06376,"y":73.6},{"s":"59.8","m":"0.497","x":0.08026,"y":75.1},{"s":"59.8","m":"0.497","x":0.101,"y":76.7},{"s":"59.8","m":"0.497","x":0.1272,"y":78.5},{"s":"59.8","m":"0.497","x":0.1601,"y":79.7},{"s":"59.8","m":"0.497","x":0.2016,"y":81.0},{"s":"59.8","m":"0.497","x":0.2538,"y":82.1},{"s":"59.8","m":"0.497","x":0.3195,"y":83.2},{"s":"59.8","m":"0.497","x":0.4022,"y":83.8},{"s":"59.8","m":"0.497","x":0.5064,"y":84.3},{"s":"59.8","m":"0.497","x":0.6376,"y":84.2},{"s":"59.8","m":"0.497","x":0.8026,"y":84.3},{"s":"59.8","m":"0.497","x":1.01,"y":83.9},{"s":"59.8","m":"0.497","x":1.272,"y":83.8},{"s":"59.8","m":"0.497","x":1.601,"y":83.5},{"s":"59.8","m":"0.497","x":2.016,"y":83.2},{"s":"59.8","m":"0.497","x":2.538,"y":83.0},{"s":"59.8","m":"0.497","x":3.195,"y":82.8},{"s":"59.8","m":"0.497","x":4.022,"y":82.3},{"s":"59.8","m":"0.497","x":5.064,"y":82.2},{"s":"59.8","m":"0.497","x":6.376,"y":80.9},{"s":"59.8","m":"0.497","x":8.026,"y":80.1},{"s":"59.8","m":"0.497","x":10.1,"y":79.0},
{"s":"70.1","m":"0.497","x":0.03195,"y":66.3},{"s":"70.1","m":"0.497","x":0.04022,"y":67.9},{"s":"70.1","m":"0.497","x":0.05064,"y":70.9},{"s":"70.1","m":"0.497","x":0.06376,"y":72.3},{"s":"70.1","m":"0.497","x":0.08026,"y":73.6},{"s":"70.1","m":"0.497","x":0.101,"y":75.0},{"s":"70.1","m":"0.497","x":0.1272,"y":76.4},{"s":"70.1","m":"0.497","x":0.1601,"y":77.9},{"s":"70.1","m":"0.497","x":0.2016,"y":79.6},{"s":"70.1","m":"0.497","x":0.2538,"y":81.1},{"s":"70.1","m":"0.497","x":0.3195,"y":81.8},{"s":"70.1","m":"0.497","x":0.4022,"y":82.5},{"s":"70.1","m":"0.497","x":0.5064,"y":82.8},{"s":"70.1","m":"0.497","x":0.6376,"y":83.2},{"s":"70.1","m":"0.497","x":0.8026,"y":83.0},{"s":"70.1","m":"0.497","x":1.01,"y":82.8},{"s":"70.1","m":"0.497","x":1.272,"y":82.5},{"s":"70.1","m":"0.497","x":1.601,"y":82.5},{"s":"70.1","m":"0.497","x":2.016,"y":82.2},{"s":"70.1","m":"0.497","x":2.538,"y":81.9},{"s":"70.1","m":"0.497","x":3.195,"y":81.6},{"s":"70.1","m":"0.497","x":4.022,"y":81.1},{"s":"70.1","m":"0.497","x":5.064,"y":80.7},{"s":"70.1","m":"0.497","x":6.376,"y":79.7},{"s":"70.1","m":"0.497","x":8.026,"y":78.8},{"s":"70.1","m":"0.497","x":10.1,"y":77.9},
{"s":"79.9","m":"0.497","x":0.03195,"y":65.9},{"s":"79.9","m":"0.497","x":0.04022,"y":67.6},{"s":"79.9","m":"0.497","x":0.05064,"y":69.8},{"s":"79.9","m":"0.497","x":0.06376,"y":71.5},{"s":"79.9","m":"0.497","x":0.08026,"y":72.8},{"s":"79.9","m":"0.497","x":0.101,"y":74.4},{"s":"79.9","m":"0.497","x":0.1272,"y":76.0},{"s":"79.9","m":"0.497","x":0.1601,"y":77.5},{"s":"79.9","m":"0.497","x":0.2016,"y":79.0},{"s":"79.9","m":"0.497","x":0.2538,"y":80.2},{"s":"79.9","m":"0.497","x":0.3195,"y":81.1},{"s":"79.9","m":"0.497","x":0.4022,"y":81.8},{"s":"79.9","m":"0.497","x":0.5064,"y":82.5},{"s":"79.9","m":"0.497","x":0.6376,"y":82.9},{"s":"79.9","m":"0.497","x":0.8026,"y":82.8},{"s":"79.9","m":"0.497","x":1.01,"y":82.3},{"s":"79.9","m":"0.497","x":1.272,"y":82.3},{"s":"79.9","m":"0.497","x":1.601,"y":82.1},{"s":"79.9","m":"0.497","x":2.016,"y":81.7},{"s":"79.9","m":"0.497","x":2.538,"y":81.5},{"s":"79.9","m":"0.497","x":3.195,"y":81.4},{"s":"79.9","m":"0.497","x":4.022,"y":81.1},{"s":"79.9","m":"0.497","x":5.064,"y":80.9},{"s":"79.9","m":"0.497","x":6.376,"y":80.2},{"s":"79.9","m":"0.497","x":8.026,"y":79.0},{"s":"79.9","m":"0.497","x":10.1,"y":78.2},
{"s":"89.8","m":"0.497","x":0.03195,"y":66.9},{"s":"89.8","m":"0.497","x":0.04022,"y":66.3},{"s":"89.8","m":"0.497","x":0.05064,"y":68.9},{"s":"89.8","m":"0.497","x":0.06376,"y":71.0},{"s":"89.8","m":"0.497","x":0.08026,"y":72.6},{"s":"89.8","m":"0.497","x":0.101,"y":74.0},{"s":"89.8","m":"0.497","x":0.1272,"y":75.3},{"s":"89.8","m":"0.497","x":0.1601,"y":76.7},{"s":"89.8","m":"0.497","x":0.2016,"y":78.0},{"s":"89.8","m":"0.497","x":0.2538,"y":79.5},{"s":"89.8","m":"0.497","x":0.3195,"y":80.3},{"s":"89.8","m":"0.497","x":0.4022,"y":80.9},{"s":"89.8","m":"0.497","x":0.5064,"y":81.1},{"s":"89.8","m":"0.497","x":0.6376,"y":81.3},{"s":"89.8","m":"0.497","x":0.8026,"y":81.1},{"s":"89.8","m":"0.497","x":1.01,"y":81.4},{"s":"89.8","m":"0.497","x":1.272,"y":81.6},{"s":"89.8","m":"0.497","x":1.601,"y":81.5},{"s":"89.8","m":"0.497","x":2.016,"y":81.1},{"s":"89.8","m":"0.497","x":2.538,"y":81.0},{"s":"89.8","m":"0.497","x":3.195,"y":80.7},{"s":"89.8","m":"0.497","x":4.022,"y":80.5},{"s":"89.8","m":"0.497","x":5.064,"y":80.3},{"s":"89.8","m":"0.497","x":6.376,"y":79.3},{"s":"89.8","m":"0.497","x":8.026,"y":78.1},{"s":"89.8","m":"0.497","x":10.1,"y":76.5},
{"s":"99.9","m":"0.497","x":0.04022,"y":65.8},{"s":"99.9","m":"0.497","x":0.05064,"y":67.3},{"s":"99.9","m":"0.497","x":0.06376,"y":70.0},{"s":"99.9","m":"0.497","x":0.08026,"y":71.6},{"s":"99.9","m":"0.497","x":0.101,"y":73.2},{"s":"99.9","m":"0.497","x":0.1272,"y":74.4},{"s":"99.9","m":"0.497","x":0.1601,"y":75.8},{"s":"99.9","m":"0.497","x":0.2016,"y":77.2},{"s":"99.9","m":"0.497","x":0.2538,"y":78.6},{"s":"99.9","m":"0.497","x":0.3195,"y":79.5},{"s":"99.9","m":"0.497","x":0.4022,"y":80.1},{"s":"99.9","m":"0.497","x":0.5064,"y":80.4},{"s":"99.9","m":"0.497","x":0.6376,"y":80.5},{"s":"99.9","m":"0.497","x":0.8026,"y":80.4},{"s":"99.9","m":"0.497","x":1.01,"y":80.4},{"s":"99.9","m":"0.497","x":1.272,"y":80.7},{"s":"99.9","m":"0.497","x":1.601,"y":80.4},{"s":"99.9","m":"0.497","x":2.016,"y":80.5},{"s":"99.9","m":"0.497","x":2.538,"y":80.3},{"s":"99.9","m":"0.497","x":3.195,"y":80.2},{"s":"99.9","m":"0.497","x":4.022,"y":80.0},{"s":"99.9","m":"0.497","x":5.064,"y":79.9},{"s":"99.9","m":"0.497","x":6.376,"y":78.8},{"s":"99.9","m":"0.497","x":8.026,"y":78.0},{"s":"99.9","m":"0.497","x":10.1,"y":77.2},
{"s":"110.2","m":"0.497","x":0.06376,"y":69.3},{"s":"110.2","m":"0.497","x":0.08026,"y":71.8},{"s":"110.2","m":"0.497","x":0.101,"y":73.0},{"s":"110.2","m":"0.497","x":0.1272,"y":74.0},{"s":"110.2","m":"0.497","x":0.1601,"y":75.2},{"s":"110.2","m":"0.497","x":0.2016,"y":76.9},{"s":"110.2","m":"0.497","x":0.2538,"y":77.9},{"s":"110.2","m":"0.497","x":0.3195,"y":78.6},{"s":"110.2","m":"0.497","x":0.4022,"y":79.4},{"s":"110.2","m":"0.497","x":0.5064,"y":79.9},{"s":"110.2","m":"0.497","x":0.6376,"y":79.7},{"s":"110.2","m":"0.497","x":0.8026,"y":80.1},{"s":"110.2","m":"0.497","x":1.01,"y":80.3},{"s":"110.2","m":"0.497","x":1.272,"y":80.0},{"s":"110.2","m":"0.497","x":1.601,"y":79.9},{"s":"110.2","m":"0.497","x":2.016,"y":79.7},{"s":"110.2","m":"0.497","x":2.538,"y":79.3},{"s":"110.2","m":"0.497","x":3.195,"y":79.0},{"s":"110.2","m":"0.497","x":4.022,"y":78.3},{"s":"110.2","m":"0.497","x":5.064,"y":77.9},{"s":"110.2","m":"0.497","x":6.376,"y":77.2},{"s":"110.2","m":"0.497","x":8.026,"y":76.2},{"s":"110.2","m":"0.497","x":10.1,"y":75.6},
{"s":"120.0","m":"0.497","x":0.05064,"y":66.3},{"s":"120.0","m":"0.497","x":0.06376,"y":69.6},{"s":"120.0","m":"0.497","x":0.08026,"y":71.0},{"s":"120.0","m":"0.497","x":0.101,"y":72.3},{"s":"120.0","m":"0.497","x":0.1272,"y":72.7},{"s":"120.0","m":"0.497","x":0.1601,"y":74.8},{"s":"120.0","m":"0.497","x":0.2016,"y":76.3},{"s":"120.0","m":"0.497","x":0.2538,"y":77.2},{"s":"120.0","m":"0.497","x":0.3195,"y":77.7},{"s":"120.0","m":"0.497","x":0.4022,"y":78.2},{"s":"120.0","m":"0.497","x":0.5064,"y":78.8},{"s":"120.0","m":"0.497","x":0.6376,"y":78.8},{"s":"120.0","m":"0.497","x":0.8026,"y":79.0},{"s":"120.0","m":"0.497","x":1.01,"y":79.0},{"s":"120.0","m":"0.497","x":1.272,"y":79.0},{"s":"120.0","m":"0.497","x":1.601,"y":79.4},{"s":"120.0","m":"0.497","x":2.016,"y":79.4},{"s":"120.0","m":"0.497","x":2.538,"y":79.1},{"s":"120.0","m":"0.497","x":3.195,"y":78.8},{"s":"120.0","m":"0.497","x":4.022,"y":78.3},{"s":"120.0","m":"0.497","x":5.064,"y":77.6},{"s":"120.0","m":"0.497","x":6.376,"y":76.7},{"s":"120.0","m":"0.497","x":8.026,"y":75.8},{"s":"120.0","m":"0.497","x":10.1,"y":74.9}
]},
"encoding": {
  "x": {"field": "x", "type": "quantitative",
    "scale": {"type": "log", "domain": [0.005, 45], "nice": false},
    "axis": {"title": "Strouhal number, fD/Uⱼ",
      "values": [0.005,0.006,0.007,0.008,0.009,0.01,0.02,0.03,0.04,0.05,0.06,0.07,0.08,0.09,0.1,0.2,0.3,0.4,0.5,0.6,0.7,0.8,0.9,1,2,3,4,5,6,7,8,9,10,20,30,40],
      "format": "~g",
      "labelExpr": "(datum.value == 0.01 || datum.value == 0.1 || datum.value == 1 || datum.value == 10) ? datum.label : ''",
      "labelOverlap": false, "labelFlush": false,
      "gridColor": {"condition": {"test": "datum.value == 0.01 || datum.value == 0.1 || datum.value == 1 || datum.value == 10", "value": "#555555"}, "value": "#9a9a9a"},
      "labelPadding": 9, "titlePadding": 2}},
  "y": {"field": "y", "type": "quantitative",
    "scale": {"domain": [60, 120], "nice": false, "zero": false},
    "axis": {"title": "Sound pressure level, dB", "values": [60,70,80,90,100,110,120], "gridColor": "#555555", "labelPadding": 4, "titlePadding": 6,
      "labelOffset": {"condition": {"test": "datum.value == 120", "value": 2}, "value": 0}}},
  "color": {"field": "s", "type": "nominal",
    "scale": {"domain": ["30.1","39.6","49.9","59.8","70.1","79.9","89.8","99.9","110.2","120.0"],
              "range": ["#000000","#ff0000","#0000ff","#008000","#ff8000","#ffff00","#ff00ff","#8000ff","#00ffff","#00ff00"]},
    "legend": {"title": null, "orient": "none", "legendX": 6, "legendY": 1,
      "labelExpr": "'θ = ' + datum.label + '°'",
      "symbolType": "M-1.3,0H1.3", "symbolSize": 289, "symbolStrokeWidth": 2.5,
      "labelFont": "Liberation Serif", "labelFontWeight": "bold", "labelFontSize": 11, "labelColor": "#000",
      "rowPadding": 2.4, "labelOffset": 5, "fillColor": "white", "padding": 4, "strokeColor": null}}
},
"layer": [
  {"mark": {"type": "line", "strokeWidth": 1.4}, "encoding": {"detail": {"field": "m"}}},
  {"mark": {"type": "point", "filled": false, "strokeWidth": 1.4, "size": 42, "opacity": 1},
   "encoding": {"shape": {"field": "m", "type": "nominal", "scale": {"domain": ["1.002","0.749","0.497"], "range": ["triangle-up","square","circle"]}, "legend": null}}},
  {"data": {"values": [{"x": 12.1, "y": 100.2, "t": "= 1.002"}, {"x": 12.1, "y": 88.85, "t": "= 0.749"}, {"x": 12.1, "y": 75.5, "t": "= 0.497"}]},
   "mark": {"type": "text", "align": "left", "baseline": "alphabetic", "font": "Liberation Serif", "fontWeight": "bold", "fontSize": 16, "dx": 25, "color": "#000"},
   "encoding": {"x": {"field": "x", "type": "quantitative"}, "y": {"field": "y", "type": "quantitative"}, "text": {"field": "t"}, "color": {"value": "#000"}}},
  {"data": {"values": [{"x": 12.1, "y": 100.2}, {"x": 12.1, "y": 88.85}, {"x": 12.1, "y": 75.5}]},
   "mark": {"type": "text", "align": "left", "baseline": "alphabetic", "font": "Liberation Serif", "fontWeight": "bold", "fontSize": 17, "color": "#000"},
   "encoding": {"x": {"field": "x", "type": "quantitative"}, "y": {"field": "y", "type": "quantitative"}, "text": {"value": "M"}, "color": {"value": "#000"}}},
  {"data": {"values": [{"x": 12.1, "y": 100.2}, {"x": 12.1, "y": 88.85}, {"x": 12.1, "y": 75.5}]},
   "mark": {"type": "text", "align": "left", "baseline": "alphabetic", "font": "Liberation Serif", "fontWeight": "bold", "fontSize": 12, "dx": 15, "dy": 7, "color": "#000"},
   "encoding": {"x": {"field": "x", "type": "quantitative"}, "y": {"field": "y", "type": "quantitative"}, "text": {"value": "a"}, "color": {"value": "#000"}}}
],
"config": {
  "view": {"stroke": "#000000", "strokeWidth": 1},
  "font": "Liberation Serif",
  "axis": {"domain": false, "grid": true, "gridDash": [1, 2], "gridWidth": 1, "gridOpacity": 1,
    "ticks": true, "tickSize": -4, "tickColor": "#000", "tickWidth": 1,
    "labelFont": "Liberation Serif", "labelFontWeight": "bold", "labelFontSize": 18, "labelColor": "#000",
    "titleFont": "Liberation Serif", "titleFontWeight": "bold", "titleFontSize": 22, "titleColor": "#000"}
}
}
